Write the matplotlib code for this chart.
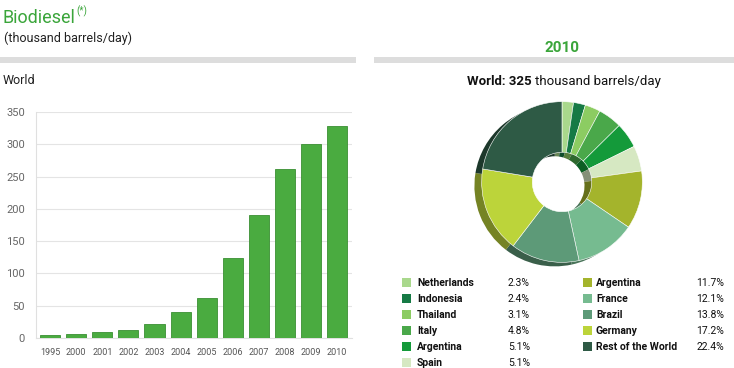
import numpy as np
import matplotlib
matplotlib.use("Agg")
import matplotlib.pyplot as plt
import matplotlib.colors as mcolors

plt.rcParams['font.family'] = ['Roboto', 'DejaVu Sans']

# bar chart data (thousand barrels/day)
years = ['1995', '2000', '2001', '2002', '2003', '2004', '2005', '2006', '2007', '2008', '2009', '2010']
output = [4, 6, 10, 13, 22, 41, 62, 124, 190, 262, 300, 328]

# 2010 shares (%)
countries = ['Netherlands', 'Indonesia', 'Thailand', 'Italy', 'Argentina', 'Spain',
             'Argentina', 'France', 'Brazil', 'Germany', 'Rest of the World']
shares = [2.3, 2.4, 3.1, 4.8, 5.1, 5.1, 11.7, 12.1, 13.8, 17.2, 22.4]
colors = ['#a9d88c', '#167a45', '#8ccc62', '#4aa84a', '#149a3a', '#d6e8c2',
          '#a4b42c', '#76bb90', '#5d9a78', '#bcd43a', '#2e5a45']

W, H = 734, 368
fig = plt.figure(figsize=(W / 100, H / 100), dpi=100)


def fx(x):
    return x / W


def fy(y):
    return 1 - y / H


green = '#3aa53a'

# headers
fig.text(fx(3), fy(23), 'Biodiesel', color=green, fontsize=13, va='baseline')
fig.text(fx(76), fy(14), '(*)', color=green, fontsize=7, va='baseline')
fig.text(fx(4), fy(42), '(thousand barrels/day)', color='#222222', fontsize=9, va='baseline')
fig.text(fx(3), fy(84), 'World', color='#222222', fontsize=9, va='baseline')
fig.text(fx(562), fy(52), '2010', color=green, fontsize=11, fontweight='bold',
         ha='center', va='baseline')
fig.text(fx(532), fy(85), 'World: 325', color='#111111', fontsize=9.5,
         fontweight='bold', ha='right', va='baseline')
fig.text(fx(535), fy(85), 'thousand barrels/day', color='#111111', fontsize=9.5,
         ha='left', va='baseline')

# gray bands
fig.add_artist(plt.Rectangle((fx(0), fy(63)), fx(356), 6 / H, color='#dddddd', lw=0))
fig.add_artist(plt.Rectangle((fx(374), fy(63)), fx(360), 6 / H, color='#dddddd', lw=0))

# bar chart
ax = fig.add_axes([fx(36), fy(338), (352 - 36) / W, (338 - 112) / H])
x = np.arange(len(years))
ax.bar(x, output, width=0.77, color='#4aab40', edgecolor='#3a8f33', linewidth=0.6, zorder=3)
ax.set_xlim(-0.54, 11.57)
ax.set_ylim(0, 350)
ax.set_yticks(range(0, 351, 50))
ax.set_xticks(x)
ax.set_xticklabels(years)
ax.tick_params(axis='x', length=0, labelsize=6.5, colors='#555555', pad=7)
ax.tick_params(axis='y', length=0, labelsize=8, colors='#666666', pad=8)
ax.grid(axis='y', color='#e4e4e4', linewidth=0.8, zorder=0)
for s in ['top', 'right']:
    ax.spines[s].set_visible(False)
for s in ['left', 'bottom']:
    ax.spines[s].set_color('#e0e0e0')

# donut
pax = fig.add_axes([fx(472), fy(272), 180 / W, 180 / H])
pax.set_aspect('equal')
shade = [tuple(np.array(mcolors.to_rgb(c)) * 0.62) for c in colors]
pax.pie(shares, colors=shade, startangle=90, counterclock=False, radius=1.0,
        center=(-0.09, -0.05), wedgeprops=dict(width=0.63, linewidth=0))
pax.pie(shares, colors=colors, startangle=90, counterclock=False, radius=1.0,
        center=(0, 0), wedgeprops=dict(width=0.63, edgecolor='white', linewidth=0.4))
pax.set_xlim(-1.12, 1.12)
pax.set_ylim(-1.12, 1.12)
pax.axis('off')

# legend
rows = [283, 299, 315, 331, 347, 363]
for i, (name, val, col) in enumerate(zip(countries, shares, colors)):
    if i < 6:
        sx, tx, px, y = 402, 417, 530, rows[i]
    else:
        sx, tx, px, y = 583, 596, 724, rows[i - 6]
    fig.add_artist(plt.Rectangle((fx(sx), fy(y + 4)), 9 / W, 9 / H, color=col, lw=0))
    fig.text(fx(tx), fy(y), name, fontsize=7.5, fontweight='bold', color='#111111', va='center')
    fig.text(fx(px), fy(y), '%.1f%%' % val, fontsize=7.5, color='#111111', va='center', ha='right')

fig.savefig('out.png', dpi=100)
